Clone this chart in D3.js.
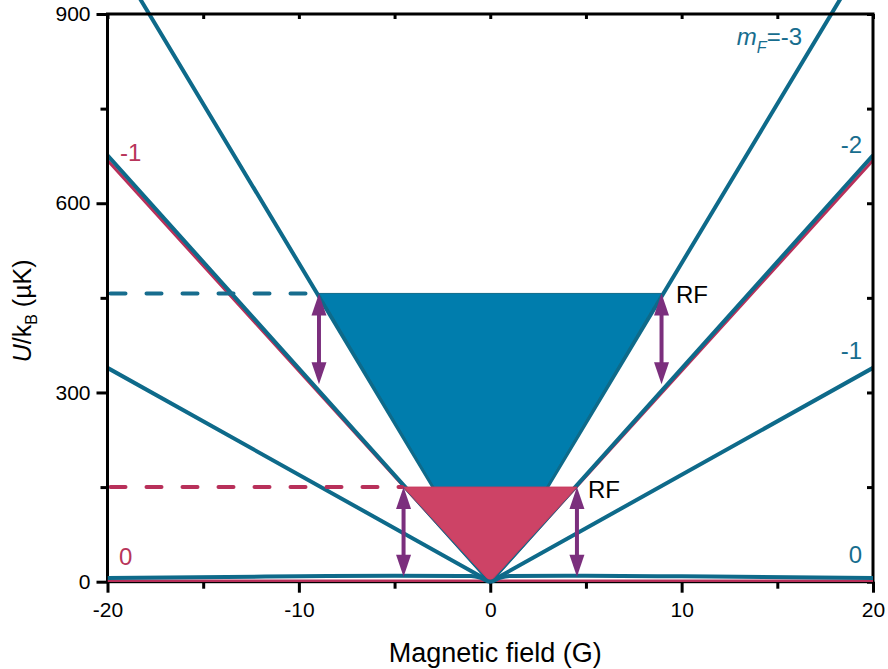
<!DOCTYPE html>
<html>
<head>
<meta charset="utf-8">
<script src="https://cdn.jsdelivr.net/npm/d3@7"></script>
<style>
  body { margin: 0; background: #fff; }
  svg { display: block; font-family: Arial, "Liberation Sans", sans-serif; }
</style>
</head>
<body>
<svg id="chart" width="888" height="669"></svg>
<script>
// ---------- data ----------
const xTicks = [-20, -10, 0, 10, 20];
const xMinorTicks = [-15, -5, 5, 15];
const yTicks = [0, 300, 600, 900];
const yMinorTicks = [150, 450, 750];

const lineX = [-20, 0, 20];
const blueMinus3 = [1010, 0, 1010];
const blueMinus2 = [676, 0, 676];
const blueMinus1 = [339, 0, 339];
const redMinus1 = [668, 0, 668];
const red0 = [1.5, 1.5, 1.5];
const blue0X = [-20, -10, -5, -1, -0.5, 0, 0.5, 1, 5, 10, 20];
const blue0 = [6, 8.5, 9.5, 9, 6, 0, 6, 9, 9.5, 8.5, 6];

// filled regions
const blueTrapX = [-8.95, 8.95, 0];
const blueTrapY = [457, 457, 0];
const redTriX = [-4.53, 4.53, 0];
const redTriY = [150, 150, 0];

// dashed levels
const dashLevels = [457, 150];
const dashEnds = [-9.0, -4.6];

// RF arrows
const arrowX = [-8.95, 8.95, -4.53, 4.53];
const arrowTop = [457, 457, 150, 150];
const arrowBottom = [313, 313, 8, 8];

// ---------- layout ----------
const svg = d3.select("#chart");
const x = d3.scaleLinear().domain([-20, 20]).range([107.5, 873]);
const y = d3.scaleLinear().domain([0, 900]).range([581.7, 14]);

const blueLine = "#0E6A8A";
const blueFill = "#007DAD";
const redLine = "#B8305A";
const redFill = "#CD4366";
const purple = "#7B2F7D";
const blueText = "#176D8E";
const redText = "#B8355A";

svg.append("defs").append("clipPath").attr("id", "clip")
  .append("rect").attr("x", x(-20)).attr("y", 0)
  .attr("width", x(20) - x(-20)).attr("height", y(0) + 4);

const plot = svg.append("g").attr("clip-path", "url(#clip)");
const line = d3.line().x(d => x(d[0])).y(d => y(d[1]));

// red line (-1)
plot.append("path").datum(lineX.map((xv, i) => [xv, redMinus1[i]]))
  .attr("d", line).attr("fill", "none").attr("stroke", redLine).attr("stroke-width", 3);
// blue lines
[blueMinus3, blueMinus2, blueMinus1].forEach(vals => {
  plot.append("path").datum(lineX.map((xv, i) => [xv, vals[i]]))
    .attr("d", line).attr("fill", "none").attr("stroke", blueLine).attr("stroke-width", 4);
});

// fills
plot.append("path").datum(blueTrapX.map((xv, i) => [xv, blueTrapY[i]]))
  .attr("d", d => line(d) + "Z").attr("fill", blueFill).attr("stroke", blueLine).attr("stroke-width", 1);
plot.append("path").datum(redTriX.map((xv, i) => [xv, redTriY[i]]))
  .attr("d", d => line(d) + "Z").attr("fill", redFill).attr("stroke", "#C8395E").attr("stroke-width", 1);

// dashed lines
const dashColors = ["#176D8E", "#B8305A"];
dashLevels.forEach((lv, i) => {
  svg.append("line")
    .attr("x1", x(-20) + 3).attr("x2", x(dashEnds[i]))
    .attr("y1", y(lv)).attr("y2", y(lv))
    .attr("stroke", dashColors[i]).attr("stroke-width", 4)
    .attr("stroke-linecap", "round").attr("stroke-dasharray", "15,21");
});

// ---------- axes ----------
function styleAxis(g) {
  g.select(".domain").remove();
  g.selectAll(".tick line").attr("stroke", "#000").attr("stroke-width", 3);
  g.selectAll(".tick text").attr("font-size", 21).attr("fill", "#000")
    .attr("font-family", "Arial, 'Liberation Sans', sans-serif");
}
const fmt = d => String(d);
// bottom
svg.append("g").attr("transform", `translate(0,${y(0)})`)
  .call(d3.axisBottom(x).tickValues(xTicks).tickSize(11).tickPadding(9).tickFormat(fmt))
  .call(styleAxis);
svg.append("g").attr("transform", `translate(0,${y(0)})`)
  .call(d3.axisBottom(x).tickValues(xMinorTicks).tickSize(7).tickFormat(""))
  .call(styleAxis);
// left
svg.append("g").attr("transform", `translate(${x(-20)},0)`)
  .call(d3.axisLeft(y).tickValues(yTicks).tickSize(11).tickPadding(6).tickFormat(fmt))
  .call(styleAxis);
svg.append("g").attr("transform", `translate(${x(-20)},0)`)
  .call(d3.axisLeft(y).tickValues(yMinorTicks).tickSize(7).tickFormat(""))
  .call(styleAxis);
// top (inward)
svg.append("g").attr("transform", `translate(0,${y(900)})`)
  .call(d3.axisTop(x).tickValues(xTicks.concat(xMinorTicks)).tickSize(-5).tickFormat(""))
  .call(styleAxis);
// right (inward)
svg.append("g").attr("transform", `translate(${x(20)},0)`)
  .call(d3.axisRight(y).tickValues(yTicks.concat(yMinorTicks)).tickSize(-6).tickFormat(""))
  .call(styleAxis);

// frame
svg.append("rect").attr("x", x(-20)).attr("y", y(900))
  .attr("width", x(20) - x(-20)).attr("height", y(0) - y(900))
  .attr("fill", "none").attr("stroke", "#000").attr("stroke-width", 3);

// bottom-level lines drawn over the frame
const plot2 = svg.append("g").attr("clip-path", "url(#clip)");
plot2.append("path").datum(lineX.map((xv, i) => [xv, red0[i]]))
  .attr("d", line).attr("fill", "none").attr("stroke", redLine).attr("stroke-width", 2.5);
plot2.append("path").datum(blue0X.map((xv, i) => [xv, blue0[i]]))
  .attr("d", d3.line().x(d => x(d[0])).y(d => y(d[1])).curve(d3.curveMonotoneX))
  .attr("fill", "none").attr("stroke", blueLine).attr("stroke-width", 4);

// arrows
const headLen = 22, headW = 7.5;
arrowX.forEach((xv, i) => {
  const px = x(xv), yt = y(arrowTop[i]), yb = y(arrowBottom[i]);
  svg.append("line").attr("x1", px).attr("x2", px)
    .attr("y1", yt + headLen - 2).attr("y2", yb - headLen + 2)
    .attr("stroke", purple).attr("stroke-width", 4);
  svg.append("path")
    .attr("d", `M${px},${yt} L${px - headW},${yt + headLen} L${px + headW},${yt + headLen} Z`)
    .attr("fill", purple);
  svg.append("path")
    .attr("d", `M${px},${yb} L${px - headW},${yb - headLen} L${px + headW},${yb - headLen} Z`)
    .attr("fill", purple);
});

// ---------- titles ----------
svg.append("text").attr("x", (x(-20) + x(20)) / 2 + 5).attr("y", 662)
  .attr("text-anchor", "middle").attr("font-size", 27).attr("fill", "#000")
  .text("Magnetic field (G)");

const yt = svg.append("text").attr("transform", `translate(31,${(y(0) + y(900)) / 2 + 13}) rotate(-90)`)
  .attr("text-anchor", "middle").attr("font-size", 25).attr("fill", "#000");
yt.append("tspan").attr("font-style", "italic").text("U");
yt.append("tspan").text("/k");
yt.append("tspan").attr("font-size", 16).attr("dy", 6).text("B");
yt.append("tspan").attr("dy", -6).text(" (\u00B5K)");

// ---------- labels ----------
const mf = svg.append("text").attr("x", 802).attr("y", 45).attr("text-anchor", "end")
  .attr("font-size", 24).attr("fill", blueText);
mf.append("tspan").attr("font-style", "italic").text("m");
mf.append("tspan").attr("font-style", "italic").attr("font-size", 16).attr("dy", 8).text("F");
mf.append("tspan").attr("dy", -8).text("=-3");

function label(txt, px, py, color, anchor) {
  svg.append("text").attr("x", px).attr("y", py).attr("text-anchor", anchor || "start")
    .attr("font-size", 24).attr("fill", color).text(txt);
}
label("-2", 862, 153, blueText, "end");
label("-1", 862, 359, blueText, "end");
label("0", 862, 563, blueText, "end");
label("-1", 120, 161, redText);
label("0", 119, 565, redText);
label("RF", 676, 303, "#000");
label("RF", 588, 498, "#000");
</script>
</body>
</html>
